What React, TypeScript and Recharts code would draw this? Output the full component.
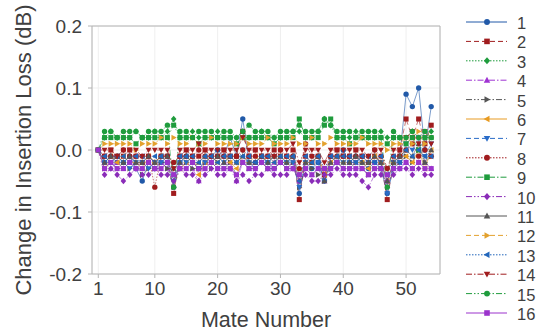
import React from "react";
import {
  LineChart,
  Line,
  XAxis,
  YAxis,
  CartesianGrid,
  ReferenceLine,
  Label,
} from "recharts";

const mate = [
  1, 2, 3, 4, 5, 6, 7, 8, 9, 10, 11, 12, 13, 14, 15, 16, 17, 18, 19, 20, 21,
  22, 23, 24, 25, 26, 27, 28, 29, 30, 31, 32, 33, 34, 35, 36, 37, 38, 39, 40,
  41, 42, 43, 44, 45, 46, 47, 48, 49, 50, 51, 52, 53, 54,
];

const s1 = [
  0, -0.02, -0.01, -0.02, -0.02, -0.01, -0.03, -0.05, -0.02, -0.03,
  -0.02, -0.02, -0.06, -0.02, -0.01, -0.02, -0.03, -0.02, -0.01, 0.0,
  -0.01, 0.02, -0.01, 0.05, -0.02, -0.02, -0.01, -0.02, -0.03, -0.02,
  -0.02, -0.01, -0.07, -0.02, -0.03, -0.02, -0.05, -0.01, -0.02, 0.0,
  -0.02, -0.01, -0.02, -0.03, -0.02, -0.03, -0.07, -0.03, -0.01, 0.09,
  0.07, 0.1, 0.0, 0.07,
];
const s2 = [
  0, -0.01, 0.0, -0.01, -0.01, 0.0, -0.01, -0.02, -0.01, -0.02,
  -0.01, -0.01, -0.07, -0.01, 0.0, -0.01, -0.01, 0.0, -0.01, -0.01,
  0.0, -0.01, -0.01, 0.03, -0.01, 0.0, -0.01, -0.01, 0.0, -0.01,
  -0.01, 0.0, -0.08, -0.01, -0.02, -0.01, -0.04, -0.01, 0.0, -0.01,
  -0.01, 0.0, -0.01, -0.02, -0.01, -0.02, -0.08, -0.02, 0.0, 0.05,
  0.02, 0.05, 0.01, 0.04,
];
const s3 = [
  0, 0.02, 0.03, 0.02, 0.02, 0.02, 0.03, 0.02, 0.02, 0.03,
  0.02, 0.03, 0.05, 0.02, 0.02, 0.03, 0.02, 0.02, 0.02, 0.03,
  0.02, 0.02, 0.02, 0.03, 0.02, 0.02, 0.03, 0.02, 0.02, 0.02,
  0.02, 0.03, 0.03, 0.02, 0.02, 0.03, 0.05, 0.04, 0.02, 0.02,
  0.02, 0.03, 0.02, 0.02, 0.02, 0.03, 0.02, 0.02, 0.02, 0.02,
  0.03, 0.02, 0.02, 0.03,
];
const s4 = [
  0, -0.02, -0.03, -0.02, -0.03, -0.02, -0.02, -0.03, -0.02, -0.03,
  -0.02, -0.03, -0.04, -0.02, -0.02, -0.03, -0.05, -0.02, -0.02, -0.03,
  -0.02, -0.02, -0.05, -0.02, -0.03, -0.02, -0.02, -0.03, -0.02, -0.02,
  -0.03, -0.02, -0.05, -0.02, -0.04, -0.03, -0.05, -0.02, -0.02, -0.03,
  -0.02, -0.02, -0.03, -0.04, -0.02, -0.03, -0.05, -0.03, -0.02, -0.02,
  -0.03, -0.02, -0.02, -0.03,
];
const s5 = [
  0, -0.03, -0.02, -0.03, -0.02, -0.03, -0.02, -0.04, -0.03, -0.03,
  -0.02, -0.03, -0.06, -0.03, -0.02, -0.03, -0.03, -0.02, -0.03, -0.02,
  -0.03, -0.02, -0.04, -0.02, -0.03, -0.03, -0.02, -0.03, -0.03, -0.02,
  -0.03, -0.02, -0.06, -0.03, -0.03, -0.04, -0.05, -0.03, -0.02, -0.03,
  -0.03, -0.02, -0.03, -0.04, -0.03, -0.03, -0.06, -0.03, -0.02, -0.01,
  -0.02, 0.0, -0.02, -0.01,
];
const s6 = [
  0, -0.03, -0.01, -0.02, -0.01, -0.02, -0.02, -0.03, -0.01, -0.02,
  -0.01, -0.02, -0.04, -0.03, -0.02, -0.01, -0.04, -0.02, -0.01, -0.02,
  -0.01, -0.02, -0.03, -0.01, -0.02, -0.01, -0.02, -0.01, -0.02, -0.01,
  -0.02, -0.01, -0.05, -0.02, -0.02, -0.01, -0.04, -0.02, -0.01, -0.02,
  -0.01, -0.02, -0.02, -0.03, -0.01, -0.02, -0.05, -0.02, -0.01, -0.01,
  -0.02, 0.0, -0.03, 0.0,
];
const s7 = [
  0, -0.02, -0.02, -0.01, -0.02, -0.03, -0.02, -0.02, -0.03, -0.02,
  -0.02, -0.01, -0.05, -0.02, -0.02, -0.02, -0.03, -0.02, -0.02, -0.01,
  -0.02, -0.01, -0.02, 0.0, -0.02, -0.03, -0.02, -0.02, -0.01, -0.02,
  -0.02, -0.02, -0.06, -0.02, -0.01, -0.02, -0.05, -0.03, -0.02, -0.02,
  -0.02, -0.02, -0.01, -0.02, -0.02, -0.02, -0.07, -0.02, -0.02, 0.01,
  0.0, 0.02, -0.01, 0.01,
];
const s8 = [
  0, -0.01, -0.01, -0.01, 0.0, -0.01, -0.01, -0.01, -0.01, -0.06,
  -0.01, -0.01, -0.02, -0.01, -0.01, -0.01, 0.0, -0.01, -0.01, -0.01,
  -0.01, -0.01, -0.01, 0.0, -0.01, -0.01, -0.01, -0.01, -0.01, 0.0,
  -0.01, -0.01, -0.03, 0.01, -0.01, -0.01, -0.03, -0.01, -0.01, -0.01,
  -0.01, -0.01, -0.01, -0.01, 0.0, -0.01, -0.03, -0.01, -0.01, 0.0,
  0.01, -0.01, 0.0, -0.01,
];
const s9 = [
  0, 0.02, 0.02, 0.02, 0.02, 0.02, 0.01, 0.02, 0.02, 0.02,
  0.02, 0.02, 0.04, 0.02, 0.02, 0.02, 0.01, 0.02, 0.02, 0.02,
  0.02, 0.02, 0.01, 0.02, 0.02, 0.02, 0.02, 0.02, 0.01, 0.02,
  0.02, 0.02, 0.05, 0.02, 0.02, 0.02, 0.04, 0.05, 0.02, 0.02,
  0.01, 0.02, 0.02, 0.02, 0.02, 0.02, 0.01, 0.02, 0.02, 0.01,
  0.02, 0.0, 0.02, 0.02,
];
const s10 = [
  0, -0.04, -0.03, -0.04, -0.05, -0.04, -0.03, -0.04, -0.04, -0.03,
  -0.04, -0.04, -0.05, -0.03, -0.04, -0.04, -0.05, -0.04, -0.03, -0.04,
  -0.04, -0.03, -0.05, -0.04, -0.05, -0.04, -0.04, -0.03, -0.04, -0.04,
  -0.04, -0.03, -0.05, -0.04, -0.05, -0.05, -0.04, -0.04, -0.03, -0.04,
  -0.04, -0.04, -0.05, -0.06, -0.04, -0.04, -0.05, -0.04, -0.03, -0.03,
  -0.04, -0.03, -0.04, -0.04,
];
const s11 = [
  0, -0.02, -0.01, -0.01, -0.02, -0.01, -0.02, -0.02, -0.01, -0.02,
  -0.01, -0.01, -0.03, -0.02, -0.01, -0.02, -0.02, -0.01, -0.02, -0.01,
  -0.02, -0.01, -0.02, -0.01, -0.02, -0.02, -0.01, -0.02, -0.01, -0.01,
  -0.02, -0.01, -0.04, -0.02, -0.02, -0.01, -0.05, -0.02, -0.01, -0.02,
  -0.02, -0.01, -0.02, -0.02, -0.01, -0.02, -0.05, -0.02, -0.01, 0.0,
  -0.01, 0.01, -0.02, 0.0,
];
const s12 = [
  0, 0.01, 0.01, 0.01, 0.01, 0.01, 0.0, 0.01, 0.01, 0.01,
  0.02, 0.01, 0.02, 0.01, 0.01, 0.02, 0.01, 0.01, 0.02, 0.01,
  0.01, 0.01, 0.01, 0.02, 0.01, 0.01, 0.01, 0.02, 0.01, 0.01,
  0.01, 0.02, 0.01, 0.01, 0.02, 0.01, 0.01, 0.02, 0.01, 0.01,
  0.01, 0.01, 0.02, 0.01, 0.01, 0.01, 0.0, 0.01, 0.01, 0.02,
  0.01, 0.03, 0.01, 0.02,
];
const s13 = [
  0, -0.01, -0.02, -0.01, -0.01, -0.02, -0.01, -0.01, -0.02, -0.01,
  -0.01, -0.02, -0.04, -0.01, -0.01, -0.01, -0.02, -0.01, -0.01, -0.02,
  -0.01, -0.01, -0.02, -0.01, -0.01, -0.02, -0.01, -0.01, -0.02, -0.01,
  -0.01, -0.01, -0.05, -0.01, -0.02, -0.01, -0.03, -0.01, -0.01, -0.01,
  -0.01, -0.02, -0.01, -0.01, -0.02, -0.01, -0.04, -0.01, -0.02, 0.0,
  -0.01, 0.0, -0.01, -0.01,
];
const s14 = [
  0, 0.0, 0.0, -0.01, 0.0, 0.0, 0.0, -0.01, 0.0, 0.0,
  0.0, 0.0, -0.03, 0.0, 0.0, 0.0, 0.01, 0.0, 0.0, 0.0,
  0.0, 0.0, 0.0, 0.02, 0.0, 0.0, 0.0, 0.0, -0.01, 0.0,
  0.0, 0.01, -0.02, 0.0, 0.0, 0.0, -0.02, 0.0, 0.0, 0.0,
  0.0, 0.0, 0.0, -0.01, 0.0, 0.0, -0.03, 0.0, 0.0, 0.02,
  0.03, 0.01, 0.03, 0.01,
];
const s15 = [
  0, 0.03, 0.03, 0.02, 0.03, 0.03, 0.03, 0.02, 0.03, 0.03,
  0.03, 0.04, -0.06, 0.03, 0.03, 0.02, 0.03, 0.03, 0.03, 0.02,
  0.03, 0.03, 0.02, 0.03, 0.04, 0.03, 0.03, 0.03, 0.02, 0.03,
  0.03, 0.03, 0.04, 0.03, 0.03, 0.03, 0.05, 0.04, 0.03, 0.03,
  0.03, 0.02, 0.03, 0.03, 0.03, 0.02, -0.06, 0.03, 0.02, 0.02,
  0.03, 0.02, 0.03, 0.02,
];
const s16 = [
  0, -0.03, -0.02, -0.03, -0.03, -0.02, -0.03, -0.03, -0.02, -0.03,
  -0.03, -0.02, -0.04, -0.03, -0.03, -0.02, -0.03, -0.03, -0.02, -0.03,
  -0.03, -0.03, -0.04, -0.02, -0.03, -0.03, -0.02, -0.03, -0.03, -0.02,
  -0.03, -0.03, -0.04, -0.03, -0.04, -0.03, -0.03, -0.03, -0.02, -0.03,
  -0.03, -0.03, -0.03, -0.04, -0.03, -0.03, -0.04, -0.03, -0.03, -0.02,
  -0.03, -0.02, -0.03, -0.03,
];

const seriesValues = [s1, s2, s3, s4, s5, s6, s7, s8, s9, s10, s11, s12, s13, s14, s15, s16];
const seriesNames = ["1", "2", "3", "4", "5", "6", "7", "8", "9", "10", "11", "12", "13", "14", "15", "16"];
const seriesColors = [
  "#2159a8", "#a01c1e", "#1f9c3d", "#9f33d2", "#555555", "#e89b22",
  "#2a6cc8", "#a01c1e", "#1f9c3d", "#8a2cb8", "#555555", "#e3a12e",
  "#2266bb", "#a01c1e", "#1f9c3d", "#9b33cc",
];
const seriesShapes = [
  "circle", "square", "diamond", "up", "right", "left", "down", "circle",
  "square", "diamond", "up", "right", "left", "down", "circle", "square",
];
const seriesDash = [
  undefined, "5 3", "1.5 1.5", "6 2 1.5 2", "6 2 1.5 2 1.5 2",
  undefined, "5 3", "1.5 1.5", "6 2 1.5 2", "6 2 1.5 2 1.5 2",
  undefined, "5 3", "1.5 1.5", "6 2 1.5 2", "6 2 1.5 2 1.5 2",
  undefined,
];

const xTicks = [1, 10, 20, 30, 40, 50];
const yTicks = [-0.2, -0.1, 0, 0.1, 0.2];

const rows = mate.map((m, i) => {
  const r: Record<string, number> = { mate: m };
  seriesValues.forEach((vals, k) => {
    r["s" + (k + 1)] = vals[i];
  });
  return r;
});

const FONT = "'Liberation Sans', Arial, sans-serif";
const TEXT = "#404040";
const AXIS = "#b4b4b4";

function Marker({ shape, x, y, color, s = 5.6 }: { shape: string; x: number; y: number; color: string; s?: number }) {
  const h = s / 2;
  switch (shape) {
    case "circle":
      return <circle cx={x} cy={y} r={h * 0.95} fill={color} />;
    case "square":
      return <rect x={x - h * 0.9} y={y - h * 0.9} width={h * 1.8} height={h * 1.8} fill={color} />;
    case "diamond":
      return <polygon points={`${x},${y - h * 1.15} ${x + h},${y} ${x},${y + h * 1.15} ${x - h},${y}`} fill={color} />;
    case "up":
      return <polygon points={`${x},${y - h * 1.1} ${x + h * 1.05},${y + h * 0.8} ${x - h * 1.05},${y + h * 0.8}`} fill={color} />;
    case "down":
      return <polygon points={`${x},${y + h * 1.1} ${x + h * 1.05},${y - h * 0.8} ${x - h * 1.05},${y - h * 0.8}`} fill={color} />;
    case "right":
      return <polygon points={`${x + h * 1.1},${y} ${x - h * 0.8},${y - h * 1.05} ${x - h * 0.8},${y + h * 1.05}`} fill={color} />;
    case "left":
      return <polygon points={`${x - h * 1.1},${y} ${x + h * 0.8},${y - h * 1.05} ${x + h * 0.8},${y + h * 1.05}`} fill={color} />;
    default:
      return null;
  }
}

function makeDot(shape: string, color: string, id: string) {
  return (props: any) => {
    const { cx, cy, index } = props;
    if (cx == null || cy == null) return <g key={`${id}-${index}`} />;
    return (
      <g key={`${id}-${index}`}>
        <Marker shape={shape} x={cx} y={cy} color={color} />
      </g>
    );
  };
}

function YTitle() {
  return (
    <text
      x={23}
      y={150}
      transform="rotate(-90 23 150)"
      textAnchor="middle"
      dominantBaseline="central"
      fontSize={22}
      fontFamily={FONT}
      fill={TEXT}
    >
      Change in Insertion Loss (dB)
    </text>
  );
}

function LegendPanel() {
  return (
    <svg
      width={540}
      height={331}
      style={{ position: "absolute", left: 0, top: 0, pointerEvents: "none" }}
    >
      {seriesNames.map((name, i) => {
        const y = 22 + i * 19.4;
        return (
          <g key={name}>
            <line
              x1={466}
              x2={507}
              y1={y}
              y2={y}
              stroke={seriesColors[i]}
              strokeWidth={1}
              strokeDasharray={seriesDash[i]}
            />
            <Marker shape={seriesShapes[i]} x={487} y={y} color={seriesColors[i]} s={6.2} />
            <text
              x={517}
              y={y + 1}
              dominantBaseline="central"
              fontSize={16.5}
              fontFamily={FONT}
              fill={TEXT}
            >
              {name}
            </text>
          </g>
        );
      })}
    </svg>
  );
}

export default function App() {
  return (
    <div
      style={{
        position: "absolute",
        left: 0,
        top: 0,
        width: 540,
        height: 331,
        background: "#fff",
        fontFamily: FONT,
      }}
    >
      <LineChart
        width={540}
        height={331}
        data={rows}
        margin={{ top: 26, right: 100, bottom: 0, left: 0 }}
      >
        <CartesianGrid stroke="#efefef" strokeWidth={1} />
        <XAxis
          dataKey="mate"
          type="number"
          domain={[0, 55.4]}
          ticks={xTicks}
          allowDataOverflow
          height={57}
          tickSize={4}
          tickMargin={4}
          stroke={AXIS}
          tick={{ fill: TEXT, fontSize: 19, fontFamily: FONT }}
        >
          <Label
            value="Mate Number"
            position="insideBottom"
            offset={4}
            style={{ fill: TEXT, fontSize: 21.5, fontFamily: FONT }}
          />
        </XAxis>
        <YAxis
          type="number"
          domain={[-0.2, 0.2]}
          ticks={yTicks}
          allowDataOverflow
          width={92}
          tickSize={4}
          tickMargin={6}
          stroke={AXIS}
          tickFormatter={(v: number) => v.toFixed(1)}
          tick={{ fill: TEXT, fontSize: 19, fontFamily: FONT }}
        >
          <Label content={() => <YTitle />} />
        </YAxis>
        <ReferenceLine y={0.2} stroke={AXIS} strokeWidth={1} />
        <ReferenceLine x={55.4} stroke={AXIS} strokeWidth={1} />
        {seriesNames.map((name, i) => (
          <Line
            key={name}
            dataKey={"s" + (i + 1)}
            name={name}
            type="linear"
            stroke={seriesColors[i]}
            strokeOpacity={0.75}
            strokeWidth={0.8}
            strokeDasharray={seriesDash[i]}
            dot={makeDot(seriesShapes[i], seriesColors[i], name)}
            activeDot={false}
            isAnimationActive={false}
          />
        ))}
      </LineChart>
      <LegendPanel />
    </div>
  );
}
